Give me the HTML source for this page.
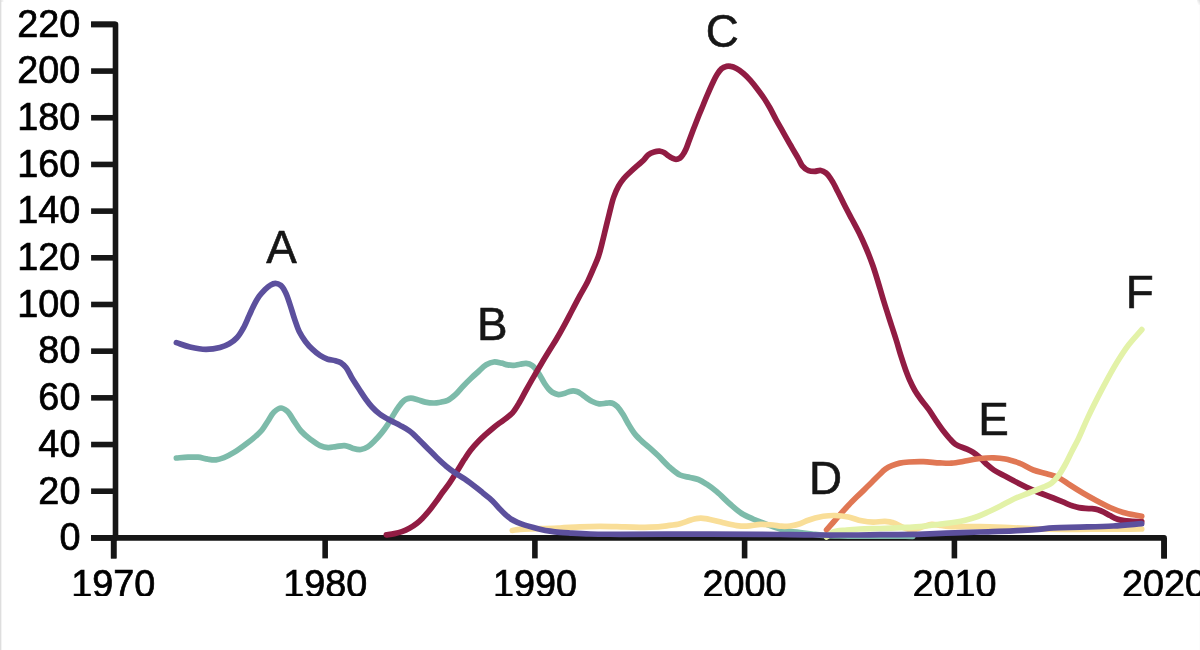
<!DOCTYPE html>
<html lang="en"><head><meta charset="utf-8"><title>Chart</title>
<style>
html,body{margin:0;padding:0;background:#fff;}
body{width:1200px;height:650px;overflow:hidden;position:relative;font-family:"Liberation Sans",Arial,Helvetica,sans-serif;}
.edge{position:absolute;top:0;height:650px;width:1px;}
#e0{left:0;background:#dedede;}
#e1{left:1px;background:#f3f3f3;}
#e2{left:1199px;background:#fcfcfc;}
#c0{position:absolute;left:1px;top:0;width:3px;height:2px;background:linear-gradient(to right,#e4e4e4,#ffffff);}
#c1{position:absolute;left:1197px;top:0;width:3px;height:5px;background:linear-gradient(to bottom left,#dcdcdc,#ffffff 80%);}
svg{position:absolute;left:0;top:0;display:block;overflow:hidden;will-change:transform;}
text{font-family:"Liberation Sans",Arial,Helvetica,sans-serif;}
.ax{font-size:37.8px;fill:#000;stroke:#000;stroke-width:0.7px;opacity:0.999;}
.lb{font-size:45.8px;fill:#161616;stroke:#161616;stroke-width:0.6px;text-anchor:middle;opacity:0.999;}
</style></head><body>
<div class="edge" id="e0"></div><div class="edge" id="e1"></div><div class="edge" id="e2"></div><div id="c0"></div><div id="c1"></div>
<svg width="1200" height="596" viewBox="0 0 1200 596">

<g fill="none" stroke="#161616" stroke-width="5.6" stroke-linejoin="round">
<path d="M91.1,24.4 H115.5 V537.9 H91.1"/>
<path d="M113.7,558.4 V537.9 H1164.1 V558.4"/>
<line x1="91.1" x2="115.5" y1="537.90" y2="537.90"/>
<line x1="91.1" x2="115.5" y1="491.22" y2="491.22"/>
<line x1="91.1" x2="115.5" y1="444.54" y2="444.54"/>
<line x1="91.1" x2="115.5" y1="397.85" y2="397.85"/>
<line x1="91.1" x2="115.5" y1="351.17" y2="351.17"/>
<line x1="91.1" x2="115.5" y1="304.49" y2="304.49"/>
<line x1="91.1" x2="115.5" y1="257.81" y2="257.81"/>
<line x1="91.1" x2="115.5" y1="211.13" y2="211.13"/>
<line x1="91.1" x2="115.5" y1="164.45" y2="164.45"/>
<line x1="91.1" x2="115.5" y1="117.76" y2="117.76"/>
<line x1="91.1" x2="115.5" y1="71.08" y2="71.08"/>
<line x1="91.1" x2="115.5" y1="24.40" y2="24.40"/>
<line x1="113.7" x2="113.7" y1="537.9" y2="558.4"/>
<line x1="325.15" x2="325.15" y1="537.9" y2="558.4"/>
<line x1="534.9" x2="534.9" y1="537.9" y2="558.4"/>
<line x1="744.6" x2="744.6" y1="537.9" y2="558.4"/>
<line x1="954.4" x2="954.4" y1="537.9" y2="558.4"/>
<line x1="1164.1" x2="1164.1" y1="537.9" y2="558.4"/>
</g>
<g class="ax" text-anchor="end">
<text transform="translate(80.4,550.20) scale(1,1.035)">0</text>
<text transform="translate(80.4,503.52) scale(1,1.035)">20</text>
<text transform="translate(80.4,456.84) scale(1,1.035)">40</text>
<text transform="translate(80.4,410.15) scale(1,1.035)">60</text>
<text transform="translate(80.4,363.47) scale(1,1.035)">80</text>
<text transform="translate(80.4,316.79) scale(1,1.035)">100</text>
<text transform="translate(80.4,270.11) scale(1,1.035)">120</text>
<text transform="translate(80.4,223.43) scale(1,1.035)">140</text>
<text transform="translate(80.4,176.75) scale(1,1.035)">160</text>
<text transform="translate(80.4,130.06) scale(1,1.035)">180</text>
<text transform="translate(80.4,83.38) scale(1,1.035)">200</text>
<text transform="translate(80.4,36.70) scale(1,1.035)">220</text>
</g>
<g class="ax" text-anchor="middle">
<text transform="translate(113.3,597.2) scale(1,1.035)">1970</text>
<text transform="translate(325.15,597.2) scale(1,1.035)">1980</text>
<text transform="translate(534.9,597.2) scale(1,1.035)">1990</text>
<text transform="translate(744.6,597.2) scale(1,1.035)">2000</text>
<text transform="translate(954.4,597.2) scale(1,1.035)">2010</text>
<text transform="translate(1164.1,597.2) scale(1,1.035)">2020</text>
</g>
<g fill="none" stroke-width="5.7" stroke-linecap="round" stroke-linejoin="round">
<path stroke="#7dbbaa" d="M176.4,458.0C180.3,457.7 184.2,457.3 188.0,457.2C191.4,457.1 194.7,456.9 198.0,457.2C201.4,457.5 204.7,458.8 208.0,459.2C210.7,459.6 213.4,460.1 216.0,459.8C218.7,459.5 221.3,458.6 224.0,457.6C227.3,456.3 230.7,454.4 234.0,452.4C238.0,450.0 242.2,446.9 246.0,444.0C249.5,441.4 253.0,438.7 256.0,436.0C258.2,434.0 260.2,432.2 262.0,430.0C264.2,427.3 266.0,424.0 268.0,421.0C270.0,418.0 271.5,414.3 274.0,412.0C276.0,410.2 278.7,408.0 281.0,408.0C283.0,408.0 285.2,409.6 287.0,411.0C289.8,413.3 291.7,417.7 294.0,421.0C296.3,424.3 298.3,428.0 301.0,431.0C303.7,434.0 306.8,436.6 310.0,439.0C313.2,441.4 316.6,444.2 320.0,445.6C322.6,446.7 325.3,447.4 328.0,447.6C330.6,447.8 333.3,446.9 336.0,446.6C338.8,446.3 342.0,445.3 344.6,445.6C346.2,445.8 347.6,446.3 349.0,446.8C350.4,447.3 351.6,448.0 353.1,448.4C355.4,449.0 358.3,449.8 360.8,449.5C363.2,449.2 365.6,448.2 367.7,446.9C370.2,445.4 372.4,443.0 374.6,440.8C377.0,438.4 379.3,435.8 381.5,433.1C383.7,430.4 385.8,427.5 387.7,424.6C389.6,421.6 391.3,418.4 393.1,415.4C394.9,412.5 396.5,409.5 398.5,406.9C400.2,404.7 401.9,402.3 403.8,400.8C404.9,399.9 406.1,399.2 407.3,398.8C408.4,398.4 409.6,398.2 410.8,398.2C412.9,398.2 415.4,399.1 417.7,399.7C420.3,400.4 422.7,401.6 425.4,402.1C428.3,402.7 431.8,403.1 434.6,403.0C436.5,402.9 438.1,402.6 440.0,402.3C442.5,401.8 445.3,401.4 447.7,400.3C450.5,399.0 453.0,396.8 455.4,394.6C458.2,392.1 460.5,388.9 463.1,386.2C465.6,383.6 468.2,381.0 470.8,378.5C473.3,376.1 475.9,373.8 478.5,371.5C481.0,369.2 483.4,366.4 486.2,364.8C488.6,363.4 491.2,362.3 493.8,362.0C496.3,361.7 499.0,362.6 501.5,363.1C503.6,363.6 505.6,364.5 507.7,364.9C509.7,365.3 511.8,365.5 513.8,365.4C515.9,365.3 517.9,364.5 520.0,364.2C522.1,363.9 524.2,363.2 526.2,363.4C528.3,363.6 530.5,364.4 532.3,365.6C534.8,367.2 536.6,370.4 538.5,373.1C540.7,376.3 542.6,380.5 544.6,383.5C545.9,385.4 547.1,387.2 548.5,388.8C549.7,390.1 550.8,391.4 552.3,392.3C554.1,393.4 556.4,394.4 558.5,394.6C560.7,394.8 563.3,393.8 565.4,393.1C566.9,392.6 568.1,391.8 569.5,391.4C570.7,391.1 571.9,390.8 573.1,390.8C574.3,390.8 575.6,391.1 576.8,391.5C577.9,391.9 578.9,392.4 580.0,393.1C582.0,394.3 584.1,396.3 586.2,397.7C588.2,399.1 590.1,400.5 592.3,401.5C594.5,402.5 596.9,403.5 599.2,403.8C601.5,404.1 604.1,403.4 606.2,403.2C607.5,403.1 608.8,402.7 610.0,402.8C611.1,402.9 612.2,403.1 613.3,403.6C614.8,404.3 616.3,405.6 617.7,406.9C619.7,408.9 621.4,411.9 623.1,414.6C625.2,418.0 627.1,421.9 629.2,425.4C631.2,428.6 633.1,431.8 635.4,434.6C637.7,437.4 640.5,439.9 643.1,442.3C645.6,444.6 648.3,446.6 650.8,448.8C653.4,451.1 655.7,453.3 658.3,455.8C662.0,459.4 666.0,464.1 670.0,467.5C673.3,470.3 676.4,473.3 680.0,475.0C683.1,476.5 686.7,476.7 690.0,477.5C692.8,478.2 695.6,478.5 698.3,479.5C701.2,480.6 703.9,482.4 706.7,484.2C710.1,486.4 713.4,488.9 716.7,491.7C721.1,495.3 725.5,500.1 730.0,504.0C733.9,507.4 737.6,510.9 741.7,513.5C745.3,515.8 749.1,517.3 753.0,519.0C757.4,520.9 762.1,522.7 766.7,524.4C771.1,526.0 775.7,527.8 780.0,529.0C783.4,530.0 786.6,530.7 790.0,531.3C793.3,531.9 796.6,532.1 800.0,532.5C803.9,533.0 808.0,533.5 812.0,534.0C815.8,534.5 819.4,535.1 823.3,535.4C828.6,535.8 834.3,535.9 840.0,536.0C846.5,536.2 853.0,536.2 860.0,536.2C869.4,536.3 880.4,536.2 890.0,536.2C897.8,536.2 905.2,536.3 912.8,536.3"/>
<path stroke="#911c43" d="M386.3,534.9C389.0,534.5 391.7,534.2 394.4,533.6C396.9,533.1 399.4,532.5 401.9,531.6C404.5,530.7 407.0,529.6 409.4,528.3C412.0,526.9 414.6,525.2 417.0,523.3C419.3,521.5 421.3,519.4 423.4,517.3C425.7,515.0 427.8,512.4 429.9,509.8C432.1,507.0 434.3,504.1 436.4,501.2C438.6,498.2 440.6,495.0 442.8,492.0C444.9,489.1 447.2,486.4 449.3,483.4C451.9,479.7 454.4,475.5 456.9,471.5C459.4,467.6 461.8,463.4 464.2,459.6C466.3,456.4 468.1,453.4 470.4,450.4C472.9,447.2 475.8,444.0 478.5,441.2C480.8,438.8 483.1,436.7 485.4,434.6C487.7,432.6 490.0,430.6 492.3,428.7C494.6,426.8 496.9,425.0 499.2,423.3C501.5,421.6 504.0,420.1 506.2,418.3C508.4,416.6 510.6,414.9 512.5,412.8C514.8,410.3 516.5,407.1 518.5,404.0C521.1,399.7 523.6,394.6 526.2,390.0C528.7,385.5 531.2,381.0 533.8,376.6C536.3,372.2 538.9,367.8 541.5,363.5C544.0,359.2 546.6,355.0 549.2,350.8C551.6,346.8 554.1,343.1 556.5,339.0C559.2,334.4 562.0,329.4 564.6,324.6C567.2,319.8 569.7,314.9 572.3,310.0C574.9,305.1 577.4,300.2 580.0,295.4C582.5,290.7 585.4,286.2 587.7,281.5C589.9,277.0 591.9,272.2 593.8,267.7C595.4,263.9 597.1,260.4 598.4,256.5C600.0,252.0 601.1,247.1 602.3,242.3C603.7,237.0 604.9,231.5 606.2,226.2C607.5,221.0 608.7,215.9 610.0,210.8C611.2,206.1 612.2,201.3 613.8,196.9C615.1,193.2 616.7,189.5 618.5,186.2C620.1,183.4 621.8,180.9 623.8,178.5C625.9,176.0 628.4,173.8 630.8,171.5C633.3,169.1 636.1,166.7 638.5,164.6C640.2,163.1 641.9,161.9 643.5,160.3C645.1,158.7 646.2,156.4 648.0,155.0C649.7,153.6 651.9,152.6 654.0,152.0C655.9,151.4 658.1,151.0 660.0,151.2C661.4,151.4 662.7,151.9 664.0,152.5C665.4,153.2 666.6,154.6 668.0,155.5C669.3,156.4 670.6,157.4 672.0,158.0C673.3,158.6 674.7,159.3 676.0,159.3C677.3,159.3 678.9,158.7 680.0,158.0C681.2,157.2 682.1,155.8 683.0,154.5C684.1,152.9 685.1,151.0 686.0,149.0C687.1,146.5 688.0,143.7 689.0,141.0C690.0,138.3 691.0,135.7 692.0,133.0C693.0,130.4 694.0,127.8 695.0,125.2C696.1,122.3 697.3,119.3 698.5,116.2C699.9,112.6 701.6,108.9 703.1,105.2C704.6,101.5 706.1,97.8 707.7,94.2C709.2,90.7 710.7,87.2 712.3,83.8C713.8,80.7 715.2,77.5 716.9,74.8C718.3,72.6 719.7,70.2 721.5,68.7C722.9,67.6 724.6,66.8 726.2,66.4C727.7,66.1 729.3,66.1 730.8,66.4C732.7,66.7 734.6,67.6 736.5,68.6C738.9,69.8 741.3,71.7 743.5,73.5C745.9,75.5 748.2,77.9 750.4,80.4C752.8,83.1 755.1,86.1 757.3,89.0C759.7,92.1 762.0,95.3 764.2,98.5C766.3,101.6 768.1,104.7 770.0,108.0C772.1,111.8 774.0,115.8 776.2,119.8C778.6,124.2 781.3,128.8 783.8,133.3C786.4,137.8 788.9,142.4 791.5,146.8C793.8,150.9 796.4,155.1 798.5,158.8C799.9,161.3 800.6,163.8 802.3,165.8C804.0,167.8 806.2,169.7 808.5,170.6C810.4,171.3 812.6,171.3 814.6,171.3C816.7,171.3 818.8,170.2 820.8,170.5C822.7,170.8 824.6,171.9 826.2,173.1C828.3,174.7 829.8,177.5 831.5,180.0C833.8,183.4 835.7,187.6 837.7,191.5C839.8,195.5 841.7,199.6 843.8,203.8C846.2,208.6 848.9,213.6 851.5,218.5C854.1,223.4 856.8,228.2 859.2,233.1C861.6,238.0 863.8,242.9 866.0,248.0C868.5,253.8 870.8,259.8 873.0,266.0C875.5,273.2 877.9,281.5 880.0,288.5C881.4,293.2 882.5,297.2 884.0,302.0C886.3,309.6 889.6,319.4 892.0,327.0C893.5,331.6 894.8,335.6 896.2,340.0C897.8,345.0 899.2,350.4 900.8,355.4C902.3,360.1 903.8,364.7 905.4,369.2C906.9,373.2 908.3,377.1 910.0,380.8C911.4,384.0 912.9,387.0 914.6,390.0C916.4,393.2 918.6,396.2 920.8,399.2C923.2,402.6 926.0,405.7 928.5,409.2C931.2,412.9 933.6,417.0 936.2,420.8C938.7,424.4 941.2,428.1 943.8,431.5C946.1,434.4 948.5,437.4 950.8,439.8C952.3,441.4 953.6,442.9 955.4,444.2C958.4,446.3 963.5,447.6 966.9,449.2C969.1,450.2 971.0,451.1 973.0,452.3C975.4,453.8 977.8,455.8 980.0,457.7C982.2,459.6 984.0,461.8 986.2,463.8C988.6,465.9 991.0,468.1 993.8,470.0C997.3,472.4 1001.7,474.3 1005.4,476.3C1008.1,477.8 1010.5,479.1 1013.3,480.6C1017.4,482.8 1022.2,485.2 1026.7,487.3C1031.1,489.3 1035.5,491.2 1040.0,493.0C1044.4,494.8 1048.9,496.2 1053.3,498.0C1057.8,499.8 1062.7,502.0 1066.7,503.6C1068.9,504.5 1070.9,505.3 1073.0,506.0C1075.0,506.6 1077.0,507.2 1079.0,507.6C1081.1,508.0 1083.3,508.2 1085.5,508.4C1087.7,508.6 1089.9,508.5 1092.0,508.7C1094.0,508.9 1096.0,509.1 1098.0,509.7C1100.1,510.3 1102.0,511.2 1104.0,512.2C1106.0,513.2 1107.9,514.5 1110.0,515.6C1112.3,516.8 1114.6,518.2 1117.0,519.0C1119.3,519.8 1121.6,520.2 1124.0,520.6C1126.6,521.0 1129.3,521.1 1132.0,521.3C1135.1,521.5 1138.5,521.5 1141.7,521.6"/>
<path stroke="#e07754" d="M826.6,529.9C828.8,527.4 830.9,525.0 833.1,522.5C835.6,519.6 838.3,516.5 840.9,513.6C843.5,510.7 846.1,507.8 848.8,505.0C851.4,502.3 854.0,499.7 856.6,497.1C859.2,494.6 861.8,492.1 864.4,489.6C867.0,487.0 869.7,484.3 872.3,481.8C874.5,479.6 876.6,477.4 878.8,475.3C881.0,473.2 883.0,470.9 885.4,469.2C887.4,467.8 889.6,466.7 891.9,465.7C894.4,464.6 897.0,463.7 899.7,463.1C902.7,462.4 905.7,462.2 908.9,462.0C913.4,461.7 918.4,461.6 923.3,461.7C928.8,461.8 934.7,462.7 940.0,462.9C944.0,463.1 947.7,463.4 951.5,463.2C955.3,463.0 959.2,462.2 963.0,461.5C966.9,460.8 970.7,459.8 974.6,459.2C978.4,458.6 982.6,458.2 986.2,458.0C988.8,457.8 991.2,457.7 993.8,457.8C997.4,457.9 1001.8,458.3 1005.4,459.0C1008.1,459.5 1010.5,460.3 1013.0,461.0C1015.4,461.7 1017.6,462.3 1020.0,463.3C1024.1,464.9 1028.7,468.2 1033.3,470.0C1037.6,471.7 1042.3,472.5 1046.7,473.8C1050.6,475.0 1054.6,475.8 1058.3,477.5C1062.4,479.4 1066.0,482.5 1070.0,485.0C1074.3,487.8 1078.8,490.6 1083.3,493.3C1087.7,495.9 1092.2,498.4 1096.7,500.8C1101.1,503.1 1105.5,505.5 1110.0,507.5C1114.4,509.4 1118.6,511.1 1123.3,512.5C1129.1,514.2 1135.6,515.0 1141.7,516.3"/>
<path stroke="#f9de98" d="M512.3,530.5C514.9,530.1 517.3,529.6 520.0,529.3C523.2,529.0 526.5,528.9 530.0,528.8C534.7,528.6 540.0,528.6 545.0,528.5C550.0,528.4 554.8,528.2 560.0,528.0C566.4,527.7 573.3,527.1 580.0,526.8C586.7,526.5 593.2,526.3 600.0,526.3C608.1,526.3 616.7,526.7 625.0,526.9C633.3,527.0 642.1,527.5 650.0,527.2C655.8,527.0 661.3,526.5 666.7,525.8C671.3,525.2 675.8,524.8 680.0,523.7C683.5,522.8 686.9,521.3 690.0,520.3C692.1,519.7 694.0,518.9 696.0,518.6C697.6,518.3 699.2,518.2 700.8,518.2C702.4,518.2 703.9,518.4 705.5,518.6C707.6,518.9 709.7,519.5 712.0,520.0C715.5,520.8 719.4,521.9 723.3,522.8C727.7,523.8 732.4,525.1 736.7,525.6C740.1,526.0 743.2,526.2 746.7,526.1C751.2,526.0 756.2,524.4 760.8,524.3C764.9,524.2 769.1,524.6 773.0,525.0C776.0,525.3 778.8,526.0 781.7,526.2C784.5,526.4 787.2,526.3 790.0,526.0C793.3,525.6 796.9,524.8 800.0,523.8C802.4,523.0 804.2,521.7 806.7,520.8C811.4,519.0 818.0,517.1 823.3,516.3C827.3,515.7 831.0,515.4 835.0,515.5C839.4,515.6 843.9,516.1 848.3,517.0C852.8,517.9 857.3,519.9 861.7,520.8C865.6,521.6 869.4,522.1 873.3,522.2C877.2,522.3 881.3,521.1 885.0,521.3C887.9,521.5 890.6,521.9 893.3,522.8C896.7,523.8 899.9,526.3 903.3,527.5C906.5,528.6 910.0,529.9 913.3,529.8C916.7,529.7 920.0,527.5 923.3,526.6C926.1,525.8 928.9,524.6 931.7,524.4C934.4,524.2 937.2,525.0 940.0,525.3C942.8,525.7 945.3,526.2 948.3,526.5C953.3,526.9 959.5,526.7 965.0,526.7C970.1,526.7 974.6,526.6 980.0,526.7C989.8,526.8 1002.2,527.4 1013.3,527.8C1024.4,528.2 1035.6,529.0 1046.7,529.2C1057.8,529.4 1068.9,529.3 1080.0,529.3C1091.1,529.3 1102.4,529.2 1113.3,529.1C1122.9,529.1 1132.2,529.0 1141.7,529.0"/>
<path stroke="#e3f2a8" d="M826.5,537.0C828.8,535.3 830.7,533.1 833.3,531.9C837.0,530.2 842.2,530.5 846.7,530.0C851.1,529.5 855.4,529.2 860.0,529.0C866.3,528.7 873.1,528.7 880.0,528.5C888.6,528.2 898.7,527.8 906.7,527.4C911.4,527.2 915.7,527.1 920.0,526.7C923.9,526.3 927.7,525.7 931.5,525.2C935.3,524.7 939.2,524.3 943.0,523.8C946.9,523.3 950.7,522.9 954.6,522.3C958.5,521.7 962.4,521.0 966.2,520.0C970.1,519.0 973.9,517.9 977.7,516.5C981.6,515.1 985.4,513.2 989.2,511.5C992.9,509.8 996.3,508.2 1000.0,506.3C1004.3,504.1 1008.7,501.4 1013.3,499.2C1018.6,496.7 1024.6,494.7 1030.0,492.5C1034.6,490.7 1039.2,489.1 1043.3,487.2C1046.3,485.8 1049.2,484.9 1051.7,483.0C1054.2,481.1 1056.3,478.5 1058.3,475.8C1060.8,472.6 1062.9,468.8 1065.0,465.0C1067.4,460.8 1069.4,456.1 1071.7,451.7C1073.9,447.4 1076.1,443.5 1078.3,439.0C1081.4,432.5 1084.3,425.1 1087.7,417.9C1092.1,408.5 1097.3,398.2 1102.3,388.7C1107.1,379.7 1112.0,370.4 1117.0,362.3C1120.8,356.1 1124.5,350.3 1128.7,344.8C1132.8,339.5 1137.4,334.7 1141.8,329.6"/>
<path stroke="#5c509d" d="M176.4,342.6C180.9,344.1 185.3,345.9 190.0,347.0C195.1,348.2 200.8,349.4 206.0,349.4C210.7,349.4 215.7,348.7 220.0,347.5C223.3,346.6 226.4,345.4 229.2,343.8C232.0,342.2 234.7,340.1 236.9,337.7C239.4,335.1 241.2,331.8 243.1,328.5C245.4,324.5 247.2,319.7 249.2,315.4C251.0,311.5 252.7,307.4 254.6,303.8C256.1,301.1 257.5,298.6 259.2,296.2C260.8,294.0 262.7,291.9 264.6,290.0C266.3,288.3 268.0,286.5 270.0,285.4C271.7,284.4 273.6,283.4 275.4,283.4C277.2,283.4 279.3,284.3 280.8,285.4C282.8,286.9 284.1,289.7 285.4,292.3C287.3,295.9 288.5,300.4 290.0,304.6C291.6,309.3 293.0,314.5 294.6,319.2C296.1,323.4 297.3,327.7 299.2,331.5C301.0,335.0 303.1,338.4 305.4,341.5C307.5,344.3 309.8,346.9 312.3,349.2C314.7,351.5 317.3,353.7 320.0,355.4C322.4,356.9 325.0,358.3 327.7,359.2C330.2,360.0 333.0,360.0 335.4,360.7C337.4,361.3 339.3,361.8 341.0,362.8C342.9,364.0 344.5,365.6 346.0,367.5C348.3,370.3 349.9,374.5 352.0,378.0C354.5,382.1 357.4,386.5 360.0,390.5C362.0,393.6 363.9,396.6 366.0,399.5C367.9,402.1 369.8,404.6 372.0,407.0C374.4,409.6 377.0,412.1 380.0,414.3C383.4,416.9 387.8,419.0 391.5,421.0C394.4,422.6 397.2,423.8 400.0,425.4C403.1,427.1 406.3,428.7 409.2,430.8C412.5,433.2 415.5,436.3 418.5,439.2C421.6,442.2 424.6,445.4 427.7,448.5C430.8,451.6 433.8,454.7 436.9,457.7C439.9,460.6 443.0,463.6 446.2,466.2C449.2,468.7 452.3,471.0 455.4,473.1C458.4,475.1 461.8,476.9 464.6,478.8C466.5,480.1 468.2,481.4 470.0,482.8C472.1,484.4 474.3,486.1 476.5,487.8C478.6,489.5 480.8,491.2 482.9,492.9C485.1,494.6 487.3,496.4 489.4,498.2C491.3,499.9 493.1,501.6 494.8,503.4C496.6,505.3 498.3,507.4 500.1,509.3C501.9,511.2 503.6,513.0 505.5,514.7C507.2,516.2 509.0,517.7 510.9,519.0C512.9,520.3 515.1,521.4 517.4,522.4C519.8,523.5 522.3,524.3 524.9,525.1C527.7,526.0 530.6,526.8 533.5,527.6C536.4,528.4 539.2,529.1 542.1,529.7C544.7,530.3 547.3,530.7 550.0,531.1C553.2,531.6 556.6,532.0 560.0,532.3C563.9,532.7 567.8,532.9 572.0,533.2C577.7,533.5 583.7,533.8 590.0,534.0C599.3,534.3 609.1,534.2 620.0,534.3C642.7,534.4 674.4,534.1 700.0,534.1C720.7,534.1 742.0,534.2 760.0,534.3C770.7,534.4 780.0,534.5 790.0,534.6C800.0,534.7 810.0,534.9 820.0,535.0C830.0,535.1 840.0,535.0 850.0,535.0C860.0,535.0 869.9,534.8 880.0,534.7C890.9,534.6 903.0,534.6 913.0,534.4C919.1,534.3 924.1,534.0 930.0,533.8C937.9,533.5 946.7,533.2 955.0,532.9C963.3,532.6 971.4,532.3 980.0,532.0C990.7,531.6 1002.9,531.3 1013.3,530.8C1020.9,530.5 1027.9,530.3 1035.0,529.7C1041.2,529.2 1046.9,528.2 1053.3,527.8C1061.7,527.2 1070.9,527.4 1080.0,527.1C1090.8,526.8 1102.4,526.6 1113.3,526.0C1123.0,525.4 1132.2,524.5 1141.7,523.7"/>
</g>
<g class="lb">
<text x="281.5" y="263.2">A</text>
<text x="492.3" y="339.9">B</text>
<text x="722.3" y="47.3">C</text>
<text x="825.5" y="493.9">D</text>
<text x="993.5" y="435.0">E</text>
<text x="1139.8" y="307.7">F</text>
</g>
</svg></body></html>
